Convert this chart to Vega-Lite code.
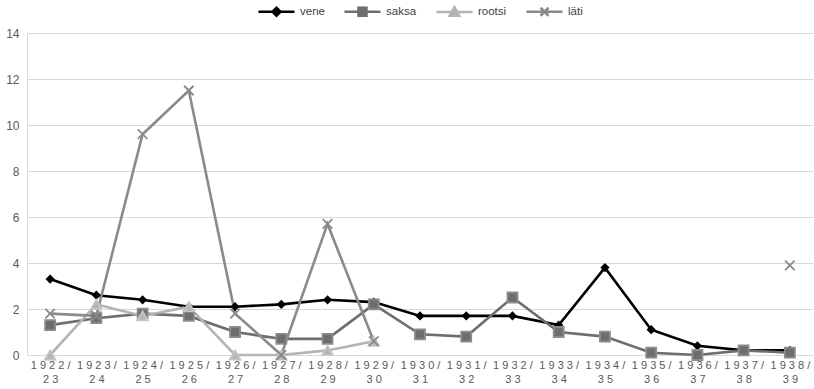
{
  "$schema": "https://vega.github.io/schema/vega-lite/v6.json",
  "width": 814,
  "height": 389,
  "autosize": {"type": "fit", "contains": "padding"},
  "padding": {"top": 5, "left": 5, "right": 1, "bottom": 5},
  "background": "white",
  "config": {
    "view": {"stroke": null},
    "font": "Liberation Sans",
    "axis": {"labelFont": "Liberation Sans", "labelColor": "#595959", "labelFontSize": 11},
    "legend": {"labelFont": "Liberation Sans", "layout": {"top": {"anchor": "middle"}}}
  },
  "datasets": {
    "rows": [
      {"year": "1922/23", "series": "vene", "value": 3.3},
      {"year": "1923/24", "series": "vene", "value": 2.6},
      {"year": "1924/25", "series": "vene", "value": 2.4},
      {"year": "1925/26", "series": "vene", "value": 2.1},
      {"year": "1926/27", "series": "vene", "value": 2.1},
      {"year": "1927/28", "series": "vene", "value": 2.2},
      {"year": "1928/29", "series": "vene", "value": 2.4},
      {"year": "1929/30", "series": "vene", "value": 2.3},
      {"year": "1930/31", "series": "vene", "value": 1.7},
      {"year": "1931/32", "series": "vene", "value": 1.7},
      {"year": "1932/33", "series": "vene", "value": 1.7},
      {"year": "1933/34", "series": "vene", "value": 1.3},
      {"year": "1934/35", "series": "vene", "value": 3.8},
      {"year": "1935/36", "series": "vene", "value": 1.1},
      {"year": "1936/37", "series": "vene", "value": 0.4},
      {"year": "1937/38", "series": "vene", "value": 0.2},
      {"year": "1938/39", "series": "vene", "value": 0.2},
      {"year": "1922/23", "series": "saksa", "value": 1.3},
      {"year": "1923/24", "series": "saksa", "value": 1.6},
      {"year": "1924/25", "series": "saksa", "value": 1.8},
      {"year": "1925/26", "series": "saksa", "value": 1.7},
      {"year": "1926/27", "series": "saksa", "value": 1.0},
      {"year": "1927/28", "series": "saksa", "value": 0.7},
      {"year": "1928/29", "series": "saksa", "value": 0.7},
      {"year": "1929/30", "series": "saksa", "value": 2.2},
      {"year": "1930/31", "series": "saksa", "value": 0.9},
      {"year": "1931/32", "series": "saksa", "value": 0.8},
      {"year": "1932/33", "series": "saksa", "value": 2.5},
      {"year": "1933/34", "series": "saksa", "value": 1.0},
      {"year": "1934/35", "series": "saksa", "value": 0.8},
      {"year": "1935/36", "series": "saksa", "value": 0.1},
      {"year": "1936/37", "series": "saksa", "value": 0.0},
      {"year": "1937/38", "series": "saksa", "value": 0.2},
      {"year": "1938/39", "series": "saksa", "value": 0.1},
      {"year": "1922/23", "series": "rootsi", "value": 0.0},
      {"year": "1923/24", "series": "rootsi", "value": 2.2},
      {"year": "1924/25", "series": "rootsi", "value": 1.7},
      {"year": "1925/26", "series": "rootsi", "value": 2.1},
      {"year": "1926/27", "series": "rootsi", "value": 0.0},
      {"year": "1927/28", "series": "rootsi", "value": 0.0},
      {"year": "1928/29", "series": "rootsi", "value": 0.2},
      {"year": "1929/30", "series": "rootsi", "value": 0.6},
      {"year": "1922/23", "series": "läti", "value": 1.8},
      {"year": "1923/24", "series": "läti", "value": 1.7},
      {"year": "1924/25", "series": "läti", "value": 9.6},
      {"year": "1925/26", "series": "läti", "value": 11.5},
      {"year": "1926/27", "series": "läti", "value": 1.8},
      {"year": "1927/28", "series": "läti", "value": 0.0},
      {"year": "1928/29", "series": "läti", "value": 5.7},
      {"year": "1929/30", "series": "läti", "value": 0.6},
      {"year": "1930/31", "series": "läti", "value": null},
      {"year": "1931/32", "series": "läti", "value": null},
      {"year": "1932/33", "series": "läti", "value": null},
      {"year": "1933/34", "series": "läti", "value": null},
      {"year": "1934/35", "series": "läti", "value": null},
      {"year": "1935/36", "series": "läti", "value": null},
      {"year": "1936/37", "series": "läti", "value": null},
      {"year": "1937/38", "series": "läti", "value": null},
      {"year": "1938/39", "series": "läti", "value": 3.9}
    ]
  },
  "data": {"name": "rows"},
  "encoding": {
    "x": {
      "field": "year",
      "type": "ordinal",
      "sort": null,
      "title": null,
      "scale": {"padding": 0.5},
      "axis": {
        "domain": false,
        "ticks": false,
        "grid": false,
        "labelAngle": 0,
        "labelPadding": 4,
        "labelFontSize": 11,
        "labelLineHeight": 14,
        "labelExpr": "[join(split(slice(datum.value, 0, 5), ''), ' '), join(split(slice(datum.value, 5), ''), ' ')]"
      }
    },
    "y": {
      "field": "value",
      "type": "quantitative",
      "title": null,
      "scale": {"domain": [0, 14], "nice": false},
      "axis": {
        "values": [0, 2, 4, 6, 8, 10, 12, 14],
        "domain": true,
        "domainColor": "#d9d9d9",
        "ticks": false,
        "gridColor": "#d9d9d9",
        "labelPadding": 8,
        "labelFontSize": 12
      }
    },
    "color": {
      "field": "series",
      "type": "nominal",
      "sort": ["vene", "saksa", "rootsi", "läti"],
      "scale": {
        "domain": ["vene", "saksa", "rootsi", "läti"],
        "range": ["#000000", "#6e6e6e", "#b4b4b4", "#8a8a8a"]
      },
      "legend": {
        "orient": "top",
        "direction": "horizontal",
        "title": null,
        "labelFontSize": 11.5,
        "labelColor": "#404040",
        "symbolSize": 100,
        "symbolStrokeWidth": 2.5,
        "symbolOffset": 12,
        "labelOffset": 17,
        "columnPadding": 14,
        "offset": 12,
        "encode": {
          "symbols": {
            "update": {
              "shape": {"signal": "datum.value === 'vene' ? 'M-3.6,0H3.6M-0.8,0L0,-0.8L0.8,0L0,0.8Z' : datum.value === 'saksa' ? 'M-3.6,0H3.6M-0.8,-0.8H0.8V0.8H-0.8Z' : datum.value === 'rootsi' ? 'M-3.6,0H3.6M-0.95,0.75L0,-0.9L0.95,0.75Z' : 'M-3.6,0H3.6M-0.8,-0.8L0.8,0.8M0.8,-0.8L-0.8,0.8'"},
              "fill": {"signal": "scale('color', datum.value)"},
              "stroke": {"signal": "scale('color', datum.value)"},
              "strokeWidth": {"value": 2.5},
              "opacity": {"value": 1}
            }
          }
        }
      }
    }
  },
  "layer": [
    {
      "mark": {"type": "line", "strokeWidth": 2.6, "invalid": "break-paths-show-domains"},
      "encoding": {"detail": {"field": "series"}}
    },
    {
      "mark": {"type": "point", "filled": true, "opacity": 1, "strokeWidth": 1.8},
      "encoding": {
        "stroke": {
          "condition": [
            {"test": "datum.series === 'vene'", "value": "#000000"},
            {"test": "datum.series === 'saksa'", "value": "#8c8c8c"},
            {"test": "datum.series === 'rootsi'", "value": "#c4c4c4"}
          ],
          "value": "#8a8a8a"
        },
        "shape": {
          "condition": [
            {"test": "datum.series === 'vene'", "value": "diamond"},
            {"test": "datum.series === 'saksa'", "value": "square"},
            {"test": "datum.series === 'rootsi'", "value": "triangle-up"}
          ],
          "value": "M-1,-1L1,1M1,-1L-1,1"
        },
        "size": {
          "condition": [
            {"test": "datum.series === 'vene'", "value": 45},
            {"test": "datum.series === 'saksa'", "value": 100},
            {"test": "datum.series === 'rootsi'", "value": 110}
          ],
          "value": 90
        }
      }
    }
  ]
}
